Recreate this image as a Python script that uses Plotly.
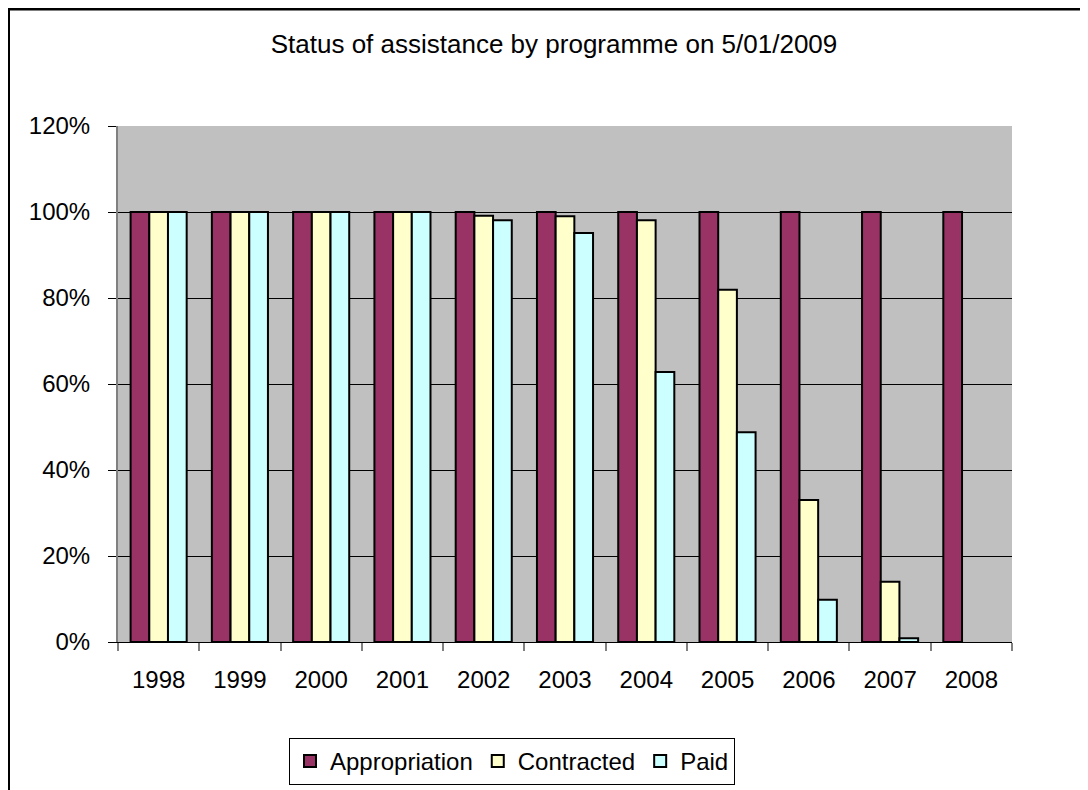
import plotly.graph_objects as go

years = ["1998", "1999", "2000", "2001", "2002", "2003", "2004", "2005", "2006", "2007", "2008"]
appropriation = [1.00, 1.00, 1.00, 1.00, 1.00, 1.00, 1.00, 1.00, 1.00, 1.00, 1.00]
contracted = [1.00, 1.00, 1.00, 1.00, 0.991, 0.99, 0.981, 0.819, 0.33, 0.14, None]
paid = [1.00, 1.00, 1.00, 1.00, 0.981, 0.951, 0.628, 0.488, 0.098, 0.009, None]

# page has an 8px body margin; figure coordinates = page coordinates - 8
W, H = 1080, 782
L, R, T, B = 110, 1004, 118, 634
pw, ph = R - L, B - T

def px_x(p):
    return (p - L) / pw

def px_y(p):
    return (B - p) / ph

font = "Liberation Sans, Arial, sans-serif"
line = dict(color="black", width=2)

fig = go.Figure()
fig.add_trace(go.Bar(name="Appropriation", x=years, y=appropriation,
                     marker=dict(color="#993366", line=line)))
fig.add_trace(go.Bar(name="Contracted", x=years, y=contracted,
                     marker=dict(color="#FFFFCC", line=line)))
fig.add_trace(go.Bar(name="Paid", x=years, y=paid,
                     marker=dict(color="#CCFFFF", line=line)))

fig.update_layout(
    width=W, height=H,
    margin=dict(l=L, r=W - R, t=T, b=H - B, pad=0, autoexpand=False),
    paper_bgcolor="white",
    plot_bgcolor="#C0C0C0",
    barmode="group",
    bargap=0.31,
    bargroupgap=0,
    font=dict(family=font, size=24, color="black"),
    title=dict(text="Status of assistance by programme on 5/01/2009",
               x=px_x(546), xref="paper", xanchor="center",
               y=1 - 36 / H, yanchor="middle",
               font=dict(family=font, size=26, color="black")),
    showlegend=True,
    legend=dict(orientation="h", x=px_x(504), xanchor="center",
                y=px_y(730), yanchor="top",
                bordercolor="black", borderwidth=1, bgcolor="white",
                font=dict(family=font, size=24, color="black"),
                traceorder="normal"),
    xaxis=dict(type="category", showgrid=False, showline=True,
               linecolor="black", linewidth=1,
               ticks="outside", tickson="boundaries", ticklen=8,
               tickcolor="#808080", tickwidth=2,
               tickfont=dict(size=24), ticklabelstandoff=16),
    yaxis=dict(range=[0, 1.2], dtick=0.2, tickformat=".0%",
               showgrid=True, gridcolor="black", gridwidth=1,
               showline=True, linecolor="#808080", linewidth=2,
               ticks="outside", ticklen=8, tickcolor="black", tickwidth=1,
               tickfont=dict(size=24), ticklabelstandoff=13,
               zeroline=False, fixedrange=True),
)

# outer chart frame (left and top edges visible)
fig.add_shape(type="line", xref="paper", yref="paper",
              x0=px_x(0), x1=px_x(W), y0=px_y(1), y1=px_y(1),
              line=dict(color="black", width=3), layer="above")
fig.add_shape(type="line", xref="paper", yref="paper",
              x0=px_x(1), x1=px_x(1), y0=px_y(0), y1=px_y(H + 10),
              line=dict(color="black", width=2), layer="above")

fig.write_html("out.html")
